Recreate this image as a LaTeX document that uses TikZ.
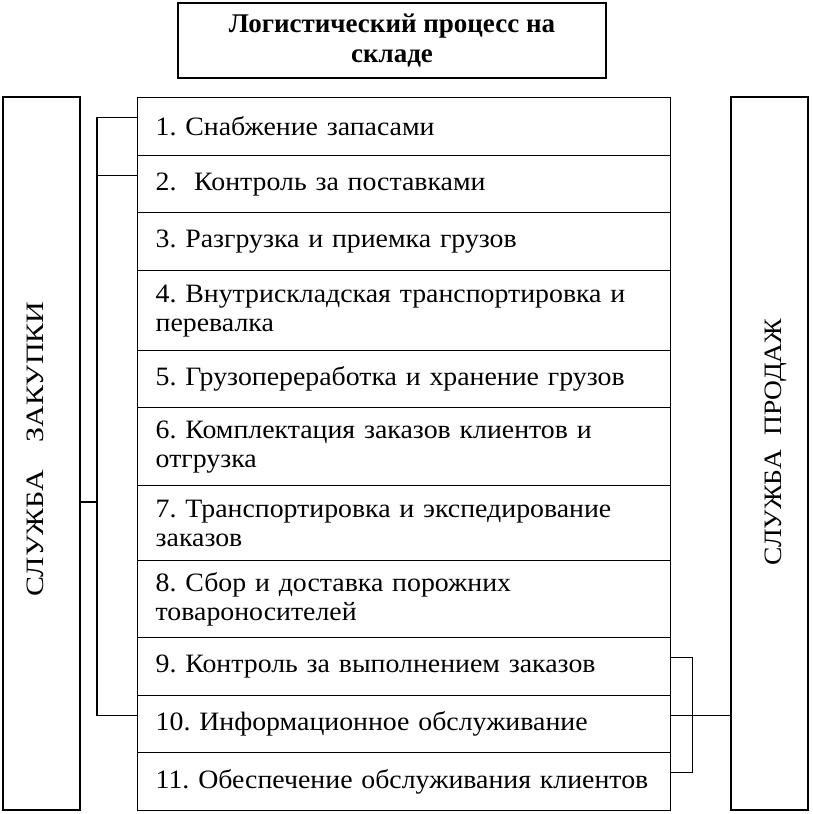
\documentclass[tikz,border=0pt]{standalone}
\usepackage{fontspec}
\setmainfont{Liberation Serif}
\newfontfamily\itemfont[FakeStretch=1.05]{Liberation Serif}
\newfontfamily\zakfont[FakeStretch=1.2]{Liberation Serif}
\newfontfamily\prodfont[FakeStretch=1.1]{Liberation Serif}
\frenchspacing
\begin{document}
\begin{tikzpicture}[x=1pt,y=-1pt,
  every node/.style={font=\itemfont\fontsize{26.5}{29}\selectfont},
  ln/.style={line width=1.4pt},
  rowbox/.style={draw,line width=1.4pt,anchor=north west,minimum width=533pt,text width=497pt,align=left,inner xsep=18pt,inner ysep=0pt},
  sidebox/.style={draw,line width=1.4pt,minimum width=77pt,minimum height=713pt,inner sep=0pt},
  sidetext/.style={rotate=90,inner sep=0pt},
  titlebox/.style={draw,line width=1.4pt,minimum width=428pt,minimum height=75pt,align=center,font=\rmfamily\fontsize{27}{30}\selectfont\bfseries}]
\useasboundingbox (0,0) rectangle (812,814);
\node[titlebox] (title) at (392,40.5) {Логистический процесс на\\складе};
\node[sidebox] (zak) at (41.5,453.5) {};
\node[sidetext,font=\zakfont\fontsize{25}{29}\selectfont] (zakt) at (35,449) {СЛУЖБА\hspace{28pt}ЗАКУПКИ};
\node[sidebox] (prod) at (769.5,453.5) {};
\node[sidetext,font=\prodfont\fontsize{25}{29}\selectfont] (prodt) at (776,442) {СЛУЖБА\hspace{14pt}ПРОДАЖ};
\node[rowbox,minimum height=58pt] (r1) at (137,97) {1. Снабжение запасами};
\node[rowbox,minimum height=57pt] (r2) at (137,155) {2.\ \ Контроль за поставками};
\node[rowbox,minimum height=58pt] (r3) at (137,212) {3. Разгрузка и приемка грузов};
\node[rowbox,minimum height=80pt] (r4) at (137,270) {4. Внутрискладская транспортировка и\\перевалка};
\node[rowbox,minimum height=57pt] (r5) at (137,350) {5. Грузопереработка и хранение грузов};
\node[rowbox,minimum height=78pt] (r6) at (137,407) {6. Комплектация заказов клиентов и\\отгрузка};
\node[rowbox,minimum height=75pt] (r7) at (137,485) {7. Транспортировка и экспедирование\\заказов};
\node[rowbox,minimum height=77pt] (r8) at (137,560) {8. Сбор и доставка порожних\\товароносителей};
\node[rowbox,minimum height=58pt] (r9) at (137,637) {9. Контроль за выполнением заказов};
\node[rowbox,minimum height=57pt] (r10) at (137,695) {10. Информационное обслуживание};
\node[rowbox,minimum height=58pt] (r11) at (137,752) {11. Обеспечение обслуживания клиентов};
% left bracket
\coordinate (l1) at ([yshift=9pt]r1.west);
\coordinate (l2) at ([yshift=9pt]r2.west);
\coordinate (l10) at ([yshift=9pt]r10.west);
\coordinate (lb) at (97,502);
\draw[ln] (l1) -- ++(-40,0) |- (l10);
\draw[ln] (l2) -- ++(-40,0);
\draw[ln] (zak.east |- lb) -- (lb);
% right bracket
\coordinate (q9) at ([yshift=9pt]r9.east);
\coordinate (q10) at ([yshift=9pt]r10.east);
\coordinate (q11) at ([yshift=9pt]r11.east);
\draw[ln] (q9) -- ++(21,0) |- (q11);
\draw[ln] (q10) -- (q10 -| prod.west);
\end{tikzpicture}
\end{document}
